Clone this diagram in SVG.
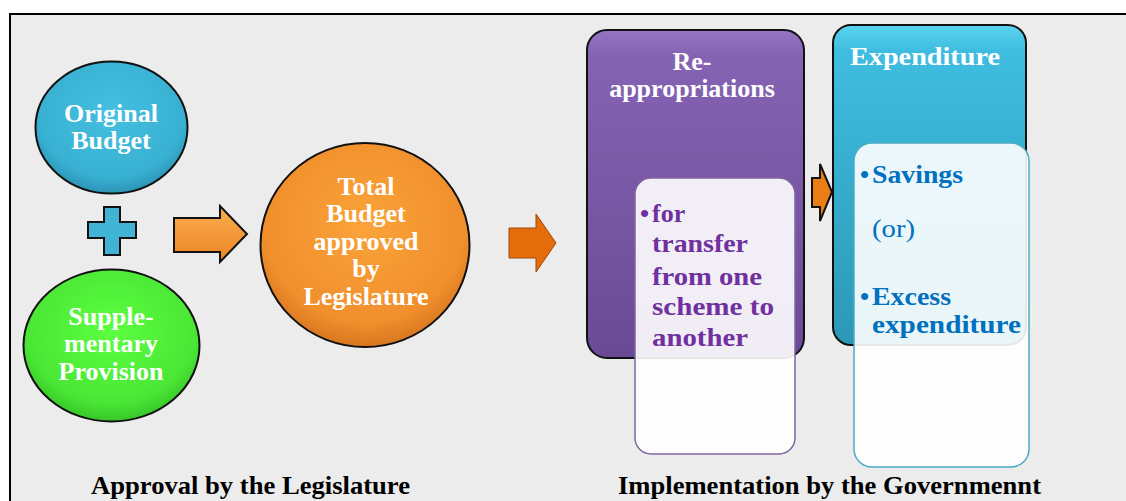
<svg xmlns="http://www.w3.org/2000/svg" width="1126" height="501" viewBox="0 0 1126 501">
<defs>
<style>
.hw{font-family:"Liberation Serif","Times New Roman",serif;font-weight:bold;font-size:26px;fill:#ffffff;text-anchor:middle}
.cap{font-family:"Liberation Serif","Times New Roman",serif;font-weight:bold;font-size:25px;fill:#000000}
.pt{font-family:"Liberation Serif","Times New Roman",serif;font-weight:bold;font-size:26px;fill:#7030a0}
.bt{font-family:"Liberation Serif","Times New Roman",serif;font-weight:bold;font-size:26px;fill:#0070c0}
.br{font-family:"Liberation Serif","Times New Roman",serif;font-size:26px;fill:#0070c0}
.outl{stroke:#111111;stroke-width:2}
</style>
<radialGradient id="gBlue" cx="50%" cy="40%" r="60%">
<stop offset="0" stop-color="#45c0e0"/><stop offset="0.8" stop-color="#38b0d2"/><stop offset="1" stop-color="#2c94b6"/>
</radialGradient>
<radialGradient id="gGreen" cx="50%" cy="40%" r="60%">
<stop offset="0" stop-color="#5cff40"/><stop offset="0.8" stop-color="#4ae635"/><stop offset="1" stop-color="#36c628"/>
</radialGradient>
<radialGradient id="gOrange" cx="50%" cy="40%" r="60%">
<stop offset="0" stop-color="#fba33a"/><stop offset="0.8" stop-color="#f08f2c"/><stop offset="1" stop-color="#d87620"/>
</radialGradient>
<linearGradient id="gArrow" x1="0" y1="0" x2="0" y2="1">
<stop offset="0" stop-color="#fbae50"/><stop offset="1" stop-color="#ea8424"/>
</linearGradient>
<linearGradient id="gPurple" x1="0" y1="0" x2="0" y2="1">
<stop offset="0" stop-color="#9474c4"/><stop offset="0.08" stop-color="#8563b3"/><stop offset="1" stop-color="#6a4a94"/>
</linearGradient>
<linearGradient id="gCyan" x1="0" y1="0" x2="0" y2="1">
<stop offset="0" stop-color="#5ad4f0"/><stop offset="0.08" stop-color="#3fbde0"/><stop offset="1" stop-color="#2c98b6"/>
</linearGradient>
</defs>
<rect x="10" y="14" width="1130" height="500" fill="#ececec" stroke="#000000" stroke-width="2"/>

<g id="original-budget">
<ellipse cx="111.5" cy="127.5" rx="76" ry="66" fill="url(#gBlue)" class="outl"/>
<text class="hw" x="111" y="122">Original</text>
<text class="hw" x="111" y="149">Budget</text>
</g>

<g id="plus">
<path d="M104,207 H120 V222 H136 V238 H120 V255 H104 V238 H88 V222 H104 Z" fill="#41b4d6" class="outl"/>
</g>

<g id="supplementary-provision">
<ellipse cx="111.5" cy="345.5" rx="88" ry="76" fill="url(#gGreen)" class="outl"/>
<text class="hw" x="111" y="325">Supple-</text>
<text class="hw" x="111" y="352">mentary</text>
<text class="hw" x="111" y="380">Provision</text>
</g>

<g id="total-budget">
<ellipse cx="365" cy="245" rx="104.5" ry="102" fill="url(#gOrange)" class="outl"/>
<text class="hw" x="366" y="195">Total</text>
<text class="hw" x="366" y="222">Budget</text>
<text class="hw" x="366" y="250">approved</text>
<text class="hw" x="366" y="277">by</text>
<text class="hw" x="366" y="305">Legislature</text>
</g>

<g id="re-appropriations">
<rect x="587" y="30" width="217" height="328" rx="20" fill="url(#gPurple)" class="outl"/>
<text class="hw" x="692" y="70">Re-</text>
<text class="hw" x="692" y="97">appropriations</text>
<rect x="635" y="178" width="160" height="276" rx="16" fill="#ffffff" fill-opacity="0.9" stroke="#8064a2" stroke-width="1.5"/>
<text class="pt" x="640" y="222">•</text>
<text class="pt" x="652" y="222">for</text>
<text class="pt" x="652" y="252" textLength="96" lengthAdjust="spacingAndGlyphs">transfer</text>
<text class="pt" x="652" y="285" textLength="110" lengthAdjust="spacingAndGlyphs">from one</text>
<text class="pt" x="652" y="315" textLength="122" lengthAdjust="spacingAndGlyphs">scheme to</text>
<text class="pt" x="652" y="346" textLength="96" lengthAdjust="spacingAndGlyphs">another</text>
</g>

<g id="expenditure">
<rect x="833" y="25" width="193" height="320" rx="18" fill="url(#gCyan)" class="outl"/>
<text class="hw" x="850" y="65" style="text-anchor:start" textLength="150" lengthAdjust="spacingAndGlyphs">Expenditure</text>
<rect x="854" y="143" width="175" height="324" rx="18" fill="#ffffff" fill-opacity="0.9" stroke="#4bacc6" stroke-width="1.5"/>
<text class="bt" x="860" y="183">•</text>
<text class="bt" x="872" y="183" textLength="91" lengthAdjust="spacingAndGlyphs">Savings</text>
<text class="br" x="872" y="237" textLength="43" lengthAdjust="spacingAndGlyphs">(or)</text>
<text class="bt" x="860" y="305">•</text>
<text class="bt" x="872" y="305" textLength="79" lengthAdjust="spacingAndGlyphs">Excess</text>
<text class="bt" x="872" y="333" textLength="149" lengthAdjust="spacingAndGlyphs">expenditure</text>
</g>

<g id="connectors">
<polygon points="174,218 220,218 220,206 247,234 220,262 220,252 174,252" fill="url(#gArrow)" class="outl"/>
<polygon points="509,228 536,228 536,214 556,243 536,272 536,258 509,258" fill="#e46c0a" stroke="#9b4a08" stroke-width="1"/>
<polygon points="812,178 820,178 820,164 832,192 820,221 820,207 812,207" fill="#ea7d14" class="outl"/>
</g>

<g id="captions">
<text class="cap" x="91" y="494" textLength="319" lengthAdjust="spacingAndGlyphs">Approval by the Legislature</text>
<text class="cap" x="618" y="494" textLength="423" lengthAdjust="spacingAndGlyphs">Implementation by the Governmennt</text>
</g>
</svg>
